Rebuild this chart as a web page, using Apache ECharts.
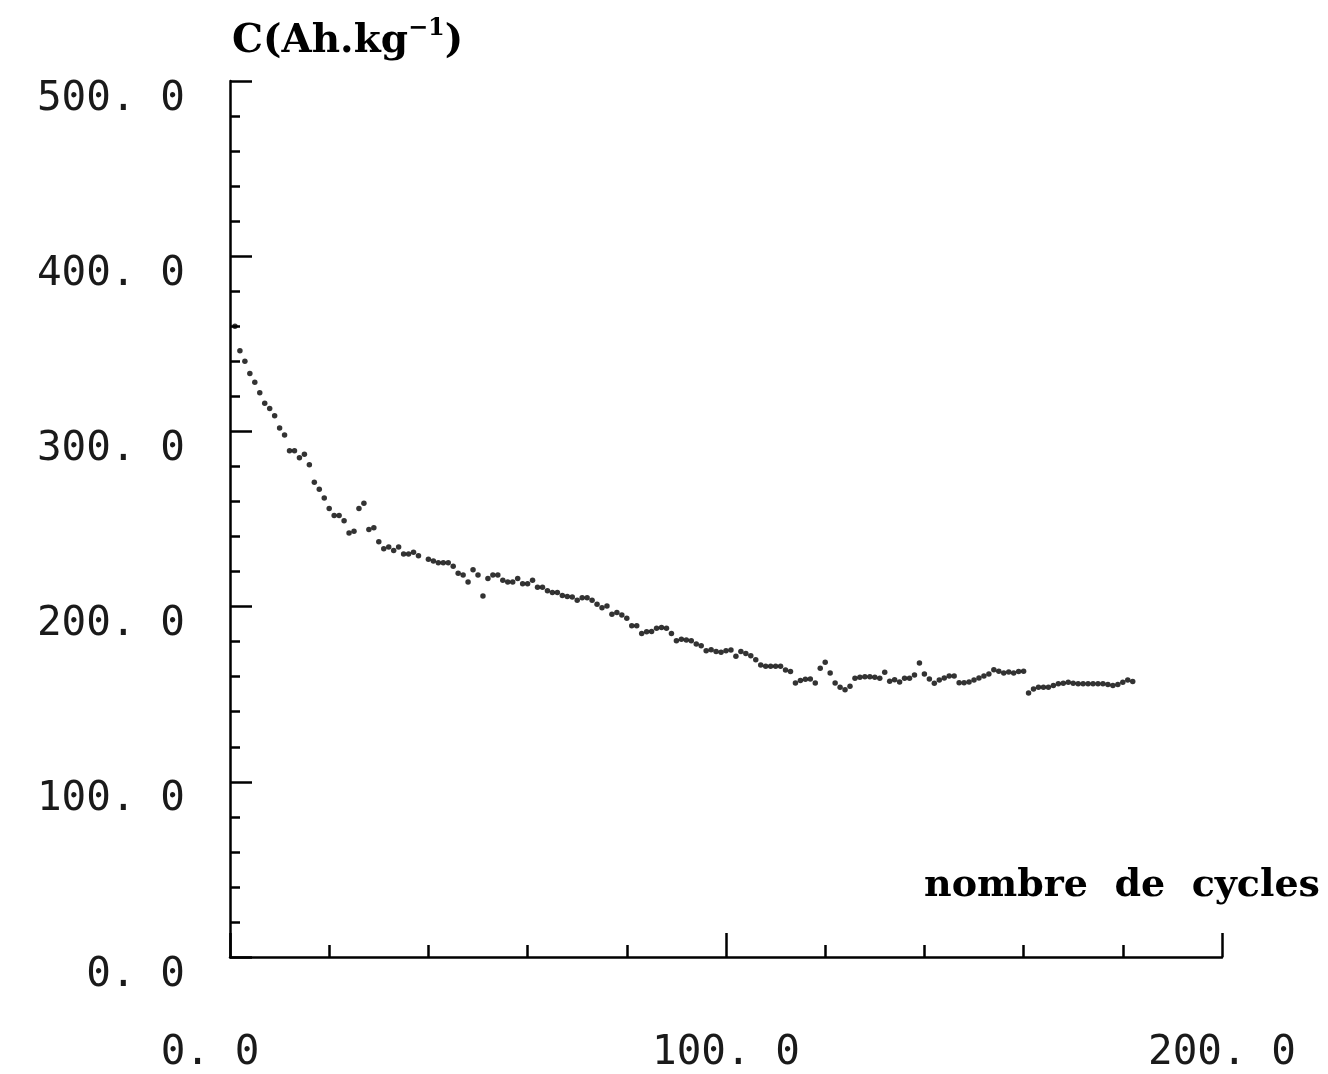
<!DOCTYPE html>
<html>
<head>
<meta charset="utf-8">
<script src="https://cdn.jsdelivr.net/npm/echarts@6/dist/echarts.min.js"></script>
<style>
html,body{margin:0;padding:0;background:#fff;}
#chart{width:1328px;height:1074px;}
</style>
</head>
<body>
<div id="chart"></div>
<script>
// Cycle numbers and capacities (Ah/kg)
const cycles = [
  1,2,3,4,5,6,7,8,9,10,11,12,13,14,15,16,17,18,19,20,21,22,23,24,25,26,27,28,29,30,31,32,33,34,35,36,37,38,
  40,41,42,43,44,45,46,47,48,49,50,51,52,53,54,55,56,57,58,59,60,61,62,63,64,
  65,66,67,68,69,70,71,72,73,74,75,76,77,78,79,80,81,82,83,84,85,86,87,88,89,90,91,92,93,94,95,
  96,97,98,99,100,101,102,103,104,105,106,107,108,109,110,111,112,113,114,115,116,117,118,119,120,121,122,123,124,125,
  126,127,128,129,130,131,132,133,134,135,136,137,138,139,140,141,142,143,144,145,146,147,148,149,150,
  151,152,153,154,155,156,157,158,159,160,
  161,162,163,164,165,166,167,168,169,170,171,172,173,174,175,176,177,178,179,180,181,182
];
const capacity = [
  360,346,340,333,328,322,316,313,309,302,298,289,289,285,287,281,271,267,262,256,252,252,249,242,243,256,259,244,245,237,233,234,232,234,230,230,231,229,
  227,226,225,225,225,223,219,218,214,221,218,206,216,218,218,215,214,214,216,213,213,215,211,211,209,
  208,208,206.4,205.7,205.5,203.6,205.1,205.1,203.6,201.3,199.4,200.4,195.6,196.6,195.2,193.4,189,189,184.7,185.6,185.8,187.7,188.1,187.7,184.7,180.5,181.4,180.9,180.5,178.6,177.7,
  174.8,175.4,174.4,174,174.8,175.2,171.6,174.4,173.3,172,169.7,166.7,165.9,165.9,165.9,165.9,163.8,162.9,156.4,157.8,158.5,158.7,156.4,164.8,168.2,162.1,156.4,154,152.5,154.5,
  159.1,159.7,160,160,159.7,159.1,162.5,157.4,158.3,157,159.1,159.1,161,167.8,161.5,158.7,156.3,158.1,159.3,160.4,160.4,156.6,156.6,157,158.1,
  159.3,160.4,161.5,164,163.1,162.1,162.7,162.1,162.9,163.1,
  150.7,153,154,154,154,154.9,155.9,156.3,156.8,156.3,155.9,155.9,155.9,155.9,155.9,155.9,155.5,154.9,155.5,156.8,158.1,157.2
];
const xTickValues = [0, 100, 200];
const xTickLabels = ['0. 0', '100. 0', '200. 0'];
const yTickValues = [0, 100, 200, 300, 400, 500];
const yTickLabels = ['0. 0', '100. 0', '200. 0', '300. 0', '400. 0', '500. 0'];
const xName = 'nombre  de  cycles';
const yName = 'C(Ah.kg{sup|−1})';

const ink = '#000';
const labelInk = '#1a1a1a';
const labelFont = 'DejaVu Sans Mono';
const titleFont = 'DejaVu Serif';

const chart = echarts.init(document.getElementById('chart'), null, {renderer: 'canvas'});
const option = {
  animation: false,
  backgroundColor: '#fff',
  grid: {left: 230, right: 106, top: 81, bottom: 113, containLabel: false},
  xAxis: {
    type: 'value', min: 0, max: 200, interval: 100,
    axisLine: {show: true, onZero: false, lineStyle: {color: ink, width: 2.5}},
    axisTick: {show: true, inside: true, length: 24, lineStyle: {color: ink, width: 2.5}},
    minorTick: {show: true, splitNumber: 5, length: 12, lineStyle: {color: ink, width: 2.5}},
    splitLine: {show: false},
    axisLabel: {
      margin: 76, fontFamily: labelFont, fontSize: 41, color: labelInk,
      formatter: function (v) {
        const i = xTickValues.indexOf(v);
        const t = i >= 0 ? xTickLabels[i] : '';
        return i === 0 ? '{z|' + t + '}' : t;
      },
      rich: {z: {fontFamily: labelFont, fontSize: 41, color: labelInk, padding: [0, 40, 0, 0]}}
    },
    name: xName, nameLocation: 'end', nameGap: 98,
    nameTextStyle: {fontFamily: titleFont, fontWeight: 'bold', fontSize: 38, color: ink,
      align: 'right', verticalAlign: 'bottom', padding: [0, 0, 52, 0]}
  },
  yAxis: {
    type: 'value', min: 0, max: 500, interval: 100,
    axisLine: {show: true, onZero: false, lineStyle: {color: ink, width: 2.5}},
    axisTick: {show: true, inside: true, length: 22, lineStyle: {color: ink, width: 2.5}},
    minorTick: {show: true, splitNumber: 5, length: 10, lineStyle: {color: ink, width: 2.5}},
    splitLine: {show: false},
    axisLabel: {
      margin: 45, color: labelInk,
      formatter: function (v) {
        const i = yTickValues.indexOf(v);
        return i >= 0 ? '{t|' + yTickLabels[i] + '}' : '';
      },
      rich: {t: {fontFamily: labelFont, fontSize: 41, color: labelInk, padding: [36, 0, 0, 0]}}
    },
    name: yName, nameLocation: 'end', nameGap: 14,
    nameTextStyle: {fontFamily: titleFont, fontWeight: 'bold', fontSize: 39, color: ink,
      align: 'left', verticalAlign: 'bottom', padding: [0, 0, 0, 2],
      rich: {sup: {fontFamily: titleFont, fontWeight: 'bold', fontSize: 24, color: ink, padding: [0, 0, 26, 0]}}}
  },
  series: [{
    type: 'scatter',
    symbol: 'circle',
    symbolSize: 5.5,
    itemStyle: {color: ink},
    data: cycles.map(function (c, i) { return [c, capacity[i]]; })
  }]
};
chart.setOption(option);
</script>
</body>
</html>
